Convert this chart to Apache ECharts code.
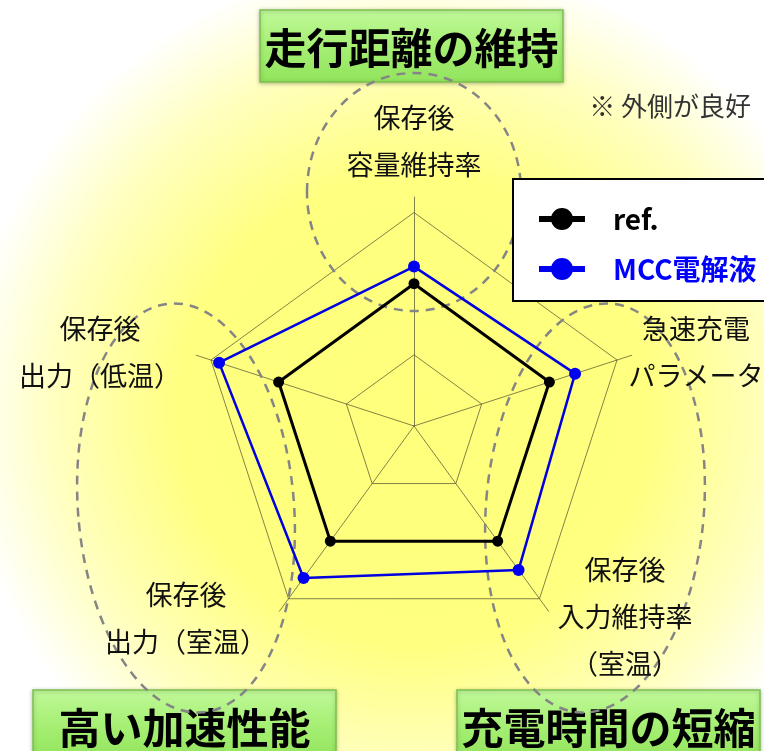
<!DOCTYPE html>
<html>
<head>
<meta charset="utf-8">
<title>電解液 レーダーチャート</title>
<script src="https://cdn.jsdelivr.net/npm/echarts@6/dist/echarts.min.js"></script>
<style>
html, body { margin: 0; padding: 0; background: #fff; }
#main { width: 764px; height: 751px; }
</style>
</head>
<body>
<div id="main"></div>
<script>
// データ（上から反時計回り）
var indicatorNames = ['保存後\n容量維持率', '保存後\n出力（低温）', '保存後\n出力（室温）', '保存後\n入力維持率\n（室温）', '急速充電\nパラメータ'];
var axisMax = 150;
var refValues = [100, 100, 100, 100, 100];
var mccValues = [112, 144, 132, 125, 119];
var seriesNames = ['ref.', 'MCC電解液'];
var groupTitles = ['走行距離の維持', '高い加速性能', '充電時間の短縮'];
var noteText = '※ 外側が良好';

var myChart = echarts.init(document.getElementById('main'));

var FONT = '"Noto Sans CJK JP", "Noto Sans", sans-serif';
var gridColor = 'rgba(90,90,50,0.75)';

// 軸名ラベルの位置
var labelPos = [[414, 141], [100, 352], [186, 618], [625, 617], [696, 352]];

function titleBox(text, x, y, w, h) {
    return {
        type: 'group',
        x: x, y: y, z: 20,
        children: [{
            type: 'rect',
            shape: { x: 0, y: 0, width: w, height: h },
            style: {
                fill: new echarts.graphic.LinearGradient(0, 0, 0, 1, [
                    { offset: 0, color: '#c0f99a' },
                    { offset: 0.5, color: '#a6ef74' },
                    { offset: 1, color: '#92e45c' }
                ]),
                stroke: '#7cc24e',
                lineWidth: 1.5,
                shadowBlur: 4,
                shadowColor: 'rgba(0,0,0,0.25)',
                shadowOffsetY: 1
            }
        }, {
            type: 'text',
            style: {
                text: text, x: w / 2, y: 38,
                fill: '#000', fontSize: 42, fontWeight: 'bold', fontFamily: FONT,
                textAlign: 'center', textVerticalAlign: 'middle'
            }
        }]
    };
}

function dashEllipse(cx, cy, rx, ry, rot) {
    return {
        type: 'ellipse',
        x: cx, y: cy, rotation: rot, z: 1, silent: true,
        shape: { cx: 0, cy: 0, rx: rx, ry: ry },
        style: { fill: null, stroke: '#858585', lineWidth: 2.5, lineDash: [9, 7] }
    };
}

var graphics = [{
    type: 'rect', z: -10, silent: true,
    shape: { x: 0, y: 0, width: 764, height: 751 },
    style: {
        fill: new echarts.graphic.RadialGradient(414, 410, 450, [
            { offset: 0, color: '#ffff7c' },
            { offset: 0.52, color: '#ffff80' },
            { offset: 0.8, color: '#ffffc0' },
            { offset: 1, color: '#ffffff' }
        ], true)
    }
},
    dashEllipse(414, 192, 107, 119, 0),
    dashEllipse(186, 508, 108, 205, 0.08),
    dashEllipse(595, 508, 109, 205, -0.08)
];

indicatorNames.forEach(function (name, i) {
    graphics.push({
        type: 'text', z: 5, silent: true,
        style: {
            text: name, x: labelPos[i][0], y: labelPos[i][1],
            fill: '#111', fontSize: 27, fontFamily: FONT, lineHeight: 47,
            textAlign: 'center', textVerticalAlign: 'middle'
        }
    });
});

graphics.push({
    type: 'text', z: 5, silent: true,
    style: {
        text: noteText, x: 751, y: 106,
        fill: '#333', fontSize: 26, fontFamily: FONT,
        textAlign: 'right', textVerticalAlign: 'middle'
    }
});
graphics.push(titleBox(groupTitles[0], 260, 10, 303, 72));
graphics.push(titleBox(groupTitles[1], 33, 690, 303, 70));
graphics.push(titleBox(groupTitles[2], 457, 690, 303, 70));

var indicators = indicatorNames.map(function (n) {
    return { name: n, min: 0, max: axisMax };
});

option = {
    animation: false,
    graphic: graphics,
    legend: {
        orient: 'vertical',
        left: 513,
        top: 179,
        selectedMode: false,
        data: [
            { name: seriesNames[0], textStyle: { color: '#000' } },
            { name: seriesNames[1], textStyle: { color: '#0000ff' } }
        ],
        icon: 'path://M0,8H46V14H0Z M12,11A11,11 0 1 1 34,11A11,11 0 1 1 12,11Z',
        itemWidth: 46,
        itemHeight: 22,
        itemGap: 22,
        padding: [26, 60, 18, 26],
        backgroundColor: '#fff',
        borderColor: '#000',
        borderWidth: 2,
        z: 10,
        textStyle: {
            fontSize: 28, fontWeight: 'bold', fontFamily: FONT,
            padding: [0, 0, 0, 23]
        }
    },
    radar: [{
        center: [414, 426],
        radius: 213.5,
        startAngle: 90,
        shape: 'polygon',
        splitNumber: 3,
        indicator: indicators,
        axisName: { show: false },
        axisLine: { show: false },
        axisTick: { show: false },
        axisLabel: { show: false },
        splitLine: { lineStyle: { color: gridColor, width: 1 } },
        splitArea: { show: false }
    }, {
        // 軸線は外枠より少し外まで伸びる
        center: [414, 426],
        radius: 229,
        startAngle: 90,
        shape: 'polygon',
        indicator: indicators,
        axisName: { show: false },
        axisLine: { lineStyle: { color: gridColor, width: 1 } },
        axisTick: { show: false },
        axisLabel: { show: false },
        splitLine: { show: false },
        splitArea: { show: false }
    }],
    series: [{
        name: seriesNames[0],
        type: 'radar',
        radarIndex: 0,
        symbol: 'circle',
        symbolSize: 11,
        lineStyle: { color: '#000', width: 3 },
        itemStyle: { color: '#000' },
        data: [{ name: seriesNames[0], value: refValues }]
    }, {
        name: seriesNames[1],
        type: 'radar',
        radarIndex: 0,
        symbol: 'circle',
        symbolSize: 12,
        lineStyle: { color: '#0000e0', width: 2.5 },
        itemStyle: { color: '#0000f0' },
        data: [{ name: seriesNames[1], value: mccValues }]
    }]
};

myChart.setOption(option);
</script>
</body>
</html>
